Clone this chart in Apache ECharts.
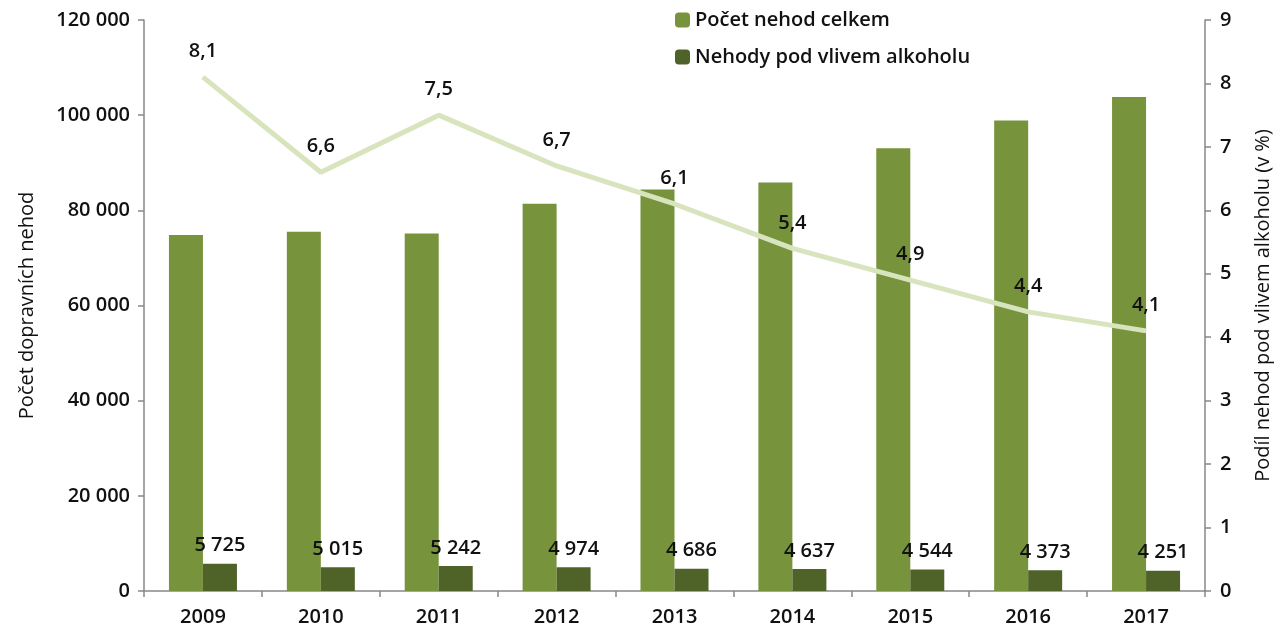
<!DOCTYPE html>
<html>
<head>
<meta charset="UTF-8">
<title>Nehody pod vlivem alkoholu</title>
<script type="text/javascript" src="https://cdn.jsdelivr.net/npm/echarts@6/dist/echarts.min.js"></script>
<style>
  html, body { margin: 0; padding: 0; background: #fff; }
</style>
</head>
<body>
<div id="main" style="width:1276px;height:635px"></div>
<script type="text/javascript">
// data
var years = ['2009', '2010', '2011', '2012', '2013', '2014', '2015', '2016', '2017'];
var nehodyCelkem = [74815, 75522, 75137, 81404, 84398, 85859, 93067, 98864, 103821];
var nehodyAlkohol = [5725, 5015, 5242, 4974, 4686, 4637, 4544, 4373, 4251];
var podilAlkohol = [8.1, 6.6, 7.5, 6.7, 6.1, 5.4, 4.9, 4.4, 4.1];

var font = 'Open Sans';
var fs = 20;

function tisice(v) {
  // 120000 -> "120 000"
  return String(v).replace(/\B(?=(\d{3})+(?!\d))/g, ' ');
}

var myChart = echarts.init(document.getElementById('main'));

var option = {
  animation: false,
  textStyle: { fontFamily: font },
  legend: {
    orient: 'vertical',
    left: 670,
    top: 5,
    itemWidth: 15,
    itemHeight: 15,
    itemGap: 17,
    data: ['Počet nehod celkem', 'Nehody pod vlivem alkoholu'],
    textStyle: { fontFamily: font, fontSize: 20, fontWeight: 600, color: '#111' }
  },
  grid: { left: 144, right: 71, top: 20, bottom: 44, containLabel: false, outerBoundsMode: 'none' },
  xAxis: {
    type: 'category',
    data: years,
    axisLine: { lineStyle: { color: '#888', width: 1.5 } },
    axisTick: { show: true, length: 6, lineStyle: { color: '#888', width: 1.5 } },
    axisLabel: { margin: 16, fontSize: fs, fontWeight: 600, color: '#111', fontFamily: font }
  },
  yAxis: [
    {
      type: 'value',
      min: 0,
      max: 120000,
      interval: 20000,
      name: 'Počet dopravních nehod',
      nameLocation: 'middle',
      nameRotate: 90,
      nameGap: 107,
      nameTextStyle: { fontSize: 20, color: '#111', fontFamily: font },
      axisLine: { show: true, lineStyle: { color: '#888', width: 1.5 } },
      axisTick: { show: true, length: 6, lineStyle: { color: '#888', width: 1.5 } },
      splitLine: { show: false },
      axisLabel: {
        margin: 14, fontSize: fs, fontWeight: 600, color: '#111', fontFamily: font,
        formatter: function (v) { return tisice(v); }
      }
    },
    {
      type: 'value',
      min: 0,
      max: 9,
      interval: 1,
      name: 'Podíl nehod pod vlivem alkoholu (v %)',
      nameLocation: 'middle',
      nameRotate: 90,
      nameGap: 48,
      nameTextStyle: { fontSize: 20, color: '#111', fontFamily: font },
      axisLine: { show: true, lineStyle: { color: '#888', width: 1.5 } },
      axisTick: { show: true, length: 6, lineStyle: { color: '#888', width: 1.5 } },
      splitLine: { show: false },
      axisLabel: { margin: 15, fontSize: fs, fontWeight: 600, color: '#111', fontFamily: font }
    }
  ],
  series: [
    {
      name: 'Počet nehod celkem',
      type: 'bar',
      barWidth: 34,
      barGap: '0%',
      data: nehodyCelkem,
      itemStyle: { color: '#77933c' }
    },
    {
      name: 'Nehody pod vlivem alkoholu',
      type: 'bar',
      barWidth: 34,
      data: nehodyAlkohol,
      itemStyle: { color: '#4f6228' },
      label: {
        show: true,
        position: 'top',
        distance: 8,
        fontSize: fs,
        fontWeight: 600,
        color: '#111',
        fontFamily: font,
        formatter: function (p) { return tisice(p.value); }
      }
    },
    {
      name: 'Podíl',
      type: 'line',
      yAxisIndex: 1,
      data: podilAlkohol,
      symbol: 'circle',
      symbolSize: 1,
      showSymbol: true,
      itemStyle: { color: '#d7e4bd' },
      lineStyle: { color: '#d7e4bd', width: 5 },
      label: {
        show: true,
        position: 'top',
        distance: 15,
        fontSize: fs,
        fontWeight: 600,
        color: '#111',
        fontFamily: font,
        formatter: function (p) { return String(p.value).replace('.', ','); }
      },
      z: 6
    }
  ]
};

myChart.setOption(option);
</script>
</body>
</html>
